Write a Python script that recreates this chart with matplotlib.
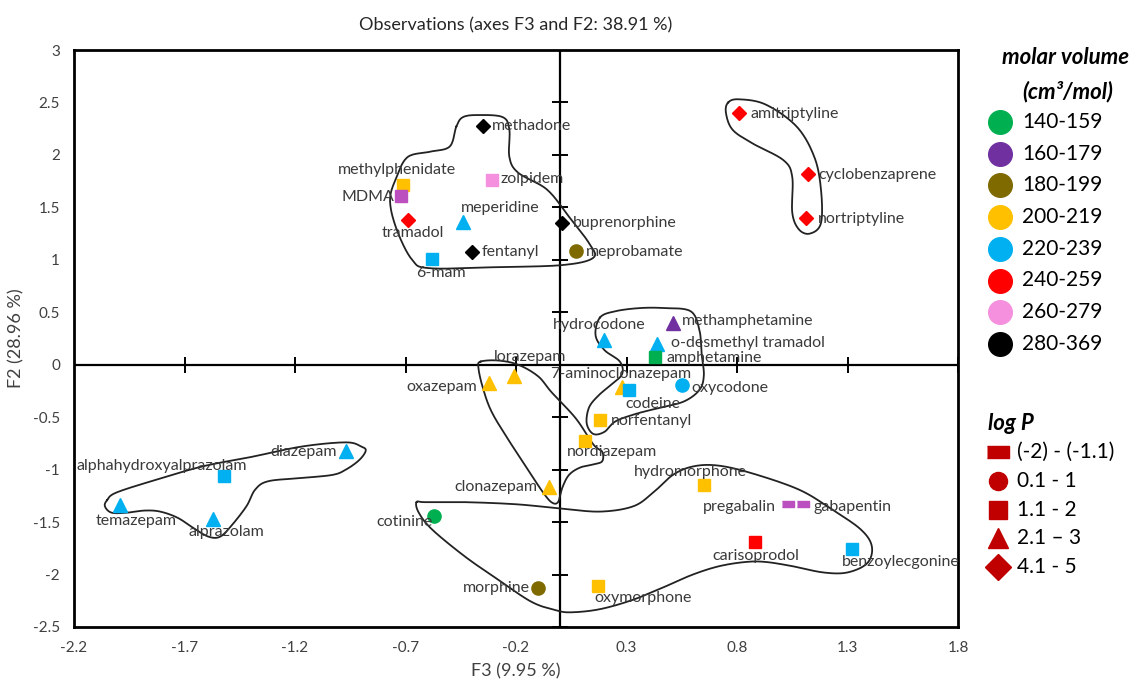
import numpy as np
import matplotlib
matplotlib.use("Agg")
import matplotlib.pyplot as plt

plt.rcParams['font.family'] = ['Lato', 'DejaVu Sans']

# --- data (F3, F2 scores) ---
names = ["methadone", "methylphenidate", "MDMA", "zolpidem", "tramadol", "meperidine",
         "buprenorphine", "fentanyl", "6-mam", "meprobamate",
         "amitriptyline", "cyclobenzaprene", "nortriptyline",
         "hydrocodone", "methamphetamine", "o-desmethyl tramadol", "amphetamine",
         "7-aminoclonazepam", "codeine", "oxycodone", "norfentanyl", "nordiazepam",
         "lorazepam", "oxazepam", "clonazepam",
         "diazepam", "alphahydroxyalprazolam", "temazepam", "alprazolam",
         "cotinine", "morphine", "oxymorphone", "hydromorphone", "pregabalin",
         "gabapentin", "carisoprodol", "benzoylecgonine"]
f3 = [-0.35, -0.71, -0.72, -0.31, -0.69, -0.44,
      0.01, -0.40, -0.58, 0.07,
      0.81, 1.12, 1.11,
      0.20, 0.51, 0.44, 0.43,
      0.28, 0.31, 0.55, 0.18, 0.11,
      -0.21, -0.32, -0.05,
      -0.97, -1.52, -1.99, -1.57,
      -0.57, -0.10, 0.17, 0.65, 1.03,
      1.10, 0.88, 1.32]
f2 = [2.28, 1.71, 1.61, 1.76, 1.38, 1.36,
      1.35, 1.07, 1.01, 1.08,
      2.40, 1.82, 1.40,
      0.24, 0.40, 0.20, 0.07,
      -0.21, -0.24, -0.19, -0.53, -0.73,
      -0.11, -0.17, -1.17,
      -0.82, -1.06, -1.34, -1.47,
      -1.44, -2.13, -2.11, -1.15, -1.33,
      -1.33, -1.69, -1.76]
vol_group = ["280-369", "200-219", "160-179b", "260-279", "240-259", "220-239",
             "280-369", "280-369", "220-239", "180-199",
             "240-259", "240-259", "240-259",
             "220-239", "160-179", "220-239", "140-159",
             "200-219", "220-239", "220-239", "200-219", "200-219",
             "200-219", "200-219", "200-219",
             "220-239", "220-239", "220-239", "220-239",
             "140-159", "180-199", "200-219", "200-219", "160-179b",
             "160-179b", "240-259", "220-239"]
logp_group = ["4.1 - 5", "1.1 - 2", "1.1 - 2", "1.1 - 2", "4.1 - 5", "2.1 \u2013 3",
              "4.1 - 5", "4.1 - 5", "1.1 - 2", "0.1 - 1",
              "4.1 - 5", "4.1 - 5", "4.1 - 5",
              "2.1 \u2013 3", "2.1 \u2013 3", "2.1 \u2013 3", "1.1 - 2",
              "2.1 \u2013 3", "1.1 - 2", "0.1 - 1", "1.1 - 2", "1.1 - 2",
              "2.1 \u2013 3", "2.1 \u2013 3", "2.1 \u2013 3",
              "2.1 \u2013 3", "1.1 - 2", "2.1 \u2013 3", "2.1 \u2013 3",
              "0.1 - 1", "0.1 - 1", "1.1 - 2", "1.1 - 2", "(-2) - (-1.1)",
              "(-2) - (-1.1)", "1.1 - 2", "1.1 - 2"]

vol_labels = ["140-159", "160-179", "180-199", "200-219", "220-239", "240-259", "260-279", "280-369"]
logp_labels = ["(-2) - (-1.1)", "0.1 - 1", "1.1 - 2", "2.1 \u2013 3", "4.1 - 5"]

xticks = [-2.2, -1.7, -1.2, -0.7, -0.2, 0.3, 0.8, 1.3, 1.8]
yticks = [-2.5, -2, -1.5, -1, -0.5, 0, 0.5, 1, 1.5, 2, 2.5, 3]

# hand-drawn group outlines (F3, F2)
outline_opioids = [(-0.47, 2.27), (-0.44, 2.36), (-0.37, 2.38), (-0.26, 2.36), (-0.23, 2.24),
                   (-0.23, 1.98), (-0.19, 1.83), (-0.06, 1.67), (0.04, 1.41), (0.13, 1.16),
                   (0.15, 1.02), (0.01, 0.95), (-0.29, 0.93), (-0.59, 0.92), (-0.67, 1.00),
                   (-0.74, 1.29), (-0.77, 1.57), (-0.74, 1.79), (-0.69, 1.98), (-0.59, 2.03),
                   (-0.50, 2.08)]
outline_tricyclic = [(0.76, 2.50), (0.81, 2.53), (0.93, 2.48), (1.07, 2.27), (1.15, 1.98),
                     (1.18, 1.67), (1.18, 1.35), (1.13, 1.25), (1.08, 1.29), (1.05, 1.45),
                     (1.05, 1.79), (1.01, 1.95), (0.87, 2.11), (0.78, 2.24), (0.75, 2.40)]
outline_amph = [(0.18, 0.45), (0.25, 0.51), (0.36, 0.54), (0.47, 0.54), (0.59, 0.51),
                (0.63, 0.33), (0.64, 0.10), (0.65, -0.10), (0.63, -0.24), (0.56, -0.35),
                (0.45, -0.41), (0.34, -0.47), (0.25, -0.54), (0.20, -0.64), (0.15, -0.66),
                (0.12, -0.56), (0.13, -0.41), (0.17, -0.30), (0.23, -0.19), (0.28, -0.09),
                (0.27, 0.03), (0.20, 0.14), (0.16, 0.28)]
outline_benzo = [(-0.36, 0.03), (-0.28, 0.04), (-0.19, 0.0), (-0.10, -0.11), (-0.04, -0.26),
                 (0.07, -0.51), (0.15, -0.76), (0.19, -0.83), (0.19, -0.92), (0.15, -0.95),
                 (0.09, -0.98), (0.04, -1.05), (0.01, -1.17), (-0.01, -1.31), (-0.04, -1.31),
                 (-0.08, -1.21), (-0.14, -1.02), (-0.23, -0.73), (-0.31, -0.45), (-0.35, -0.22),
                 (-0.37, -0.03)]
outline_alpraz = [(-2.05, -1.29), (-2.01, -1.22), (-1.85, -1.11), (-1.62, -0.97), (-1.40, -0.88),
                  (-1.17, -0.78), (-0.97, -0.74), (-0.90, -0.78), (-0.88, -0.82), (-0.91, -0.91),
                  (-0.97, -1.00), (-1.03, -1.05), (-1.17, -1.08), (-1.32, -1.11), (-1.38, -1.19),
                  (-1.42, -1.35), (-1.49, -1.54), (-1.54, -1.64), (-1.59, -1.64), (-1.65, -1.57),
                  (-1.73, -1.46), (-1.81, -1.40), (-1.88, -1.39), (-1.96, -1.41), (-2.03, -1.41),
                  (-2.06, -1.35)]
outline_bottom = [(-0.65, -1.31), (-0.61, -1.31), (-0.43, -1.31), (-0.20, -1.33), (0.00, -1.37),
                  (0.18, -1.40), (0.33, -1.35), (0.42, -1.22), (0.51, -1.05), (0.60, -0.97),
                  (0.71, -0.96), (0.86, -1.03), (1.08, -1.19), (1.23, -1.38), (1.36, -1.57),
                  (1.41, -1.73), (1.39, -1.89), (1.30, -1.98), (1.19, -1.98), (1.05, -1.92),
                  (0.93, -1.88), (0.84, -1.88), (0.72, -1.92), (0.60, -2.00), (0.48, -2.11),
                  (0.33, -2.24), (0.18, -2.33), (0.05, -2.36), (-0.02, -2.34), (-0.13, -2.26),
                  (-0.28, -2.05), (-0.43, -1.83), (-0.58, -1.57), (-0.64, -1.41)]

vol_color = {"140-159": "#00B050", "160-179": "#7030A0", "160-179b": "#BB4FC0",
             "180-199": "#7F6A00", "200-219": "#FFC000", "220-239": "#00B0F0",
             "240-259": "#FF0000", "260-279": "#F590DE", "280-369": "#000000"}
bar = [(-1, -0.5), (1, -0.5), (1, 0.5), (-1, 0.5)]
logp_marker = {"(-2) - (-1.1)": bar, "0.1 - 1": "o", "1.1 - 2": "s",
               "2.1 \u2013 3": "^", "4.1 - 5": "D"}
logp_size = {"(-2) - (-1.1)": 8.5, "0.1 - 1": 9.5, "1.1 - 2": 9, "2.1 \u2013 3": 9.5, "4.1 - 5": 7.5}

# label offsets in pixels (dx, dy, ha)
label_pos = {
    "methadone": (9, 0, "left"), "methylphenidate": (-6, 15, "center"), "MDMA": (-7, -1, "right"),
    "zolpidem": (9, 1, "left"), "tramadol": (5, -13, "center"), "meperidine": (-2, 14, "left"),
    "buprenorphine": (10, 0, "left"), "fentanyl": (10, 0, "left"), "6-mam": (9, -14, "center"),
    "meprobamate": (10, -1, "left"), "amitriptyline": (11, -1, "left"),
    "cyclobenzaprene": (11, -1, "left"), "nortriptyline": (12, -1, "left"),
    "hydrocodone": (-5, 15, "center"), "methamphetamine": (9, 2, "left"),
    "o-desmethyl tramadol": (14, 1, "left"), "amphetamine": (11, -1, "left"),
    "7-aminoclonazepam": (-1, 13, "center"), "codeine": (-3, -14, "left"),
    "oxycodone": (10, -3, "left"), "norfentanyl": (11, -1, "left"),
    "nordiazepam": (-18, -11, "left"), "lorazepam": (-20, 19, "left"),
    "oxazepam": (-12, -4, "right"), "clonazepam": (-12, 0, "right"),
    "diazepam": (-9, -1, "right"), "alphahydroxyalprazolam": (23, 10, "right"),
    "temazepam": (-25, -16, "left"), "alprazolam": (-25, -13, "left"),
    "cotinine": (-2, -6, "right"), "morphine": (-8, 0, "right"),
    "oxymorphone": (-3, -12, "left"), "hydromorphone": (-70, 13, "left"),
    "pregabalin": (-12, -3, "right"), "gabapentin": (10, -3, "left"),
    "carisoprodol": (-42, -14, "left"), "benzoylecgonine": (-10, -13, "left"),
}


def closed_curve(pts, n=16):
    p = np.array(pts)
    m = len(p)
    t = np.linspace(0, 1, n, endpoint=False)[:, None]
    segs = []
    for i in range(m):
        p0, p1, p2, p3 = p[(i - 1) % m], p[i], p[(i + 1) % m], p[(i + 2) % m]
        segs.append(0.5 * (2 * p1 + (-p0 + p2) * t + (2 * p0 - 5 * p1 + 4 * p2 - p3) * t ** 2
                           + (-p0 + 3 * p1 - 3 * p2 + p3) * t ** 3))
    out = np.vstack(segs + [p[:1]])
    return out[:, 0], out[:, 1]


fig = plt.figure(figsize=(11.44, 6.9), dpi=100)
ax = fig.add_axes([74 / 1144, 1 - 627 / 690, 884 / 1144, 577 / 690])
ax.set_xlim(-2.2, 1.8)
ax.set_ylim(-2.5, 3)

for outline in [outline_opioids, outline_tricyclic, outline_amph, outline_benzo,
                outline_alpraz, outline_bottom]:
    cx, cy = closed_curve(outline)
    ax.plot(cx, cy, color="#222222", lw=1.3, zorder=2)

ax.axhline(0, color="black", lw=1.6, zorder=1)
ax.axvline(0, color="black", lw=1.6, zorder=1)
ax.plot(xticks, [0] * len(xticks), ls="none", marker="|", ms=11, mew=1.4, color="black", zorder=1)
ax.plot([0] * len(yticks), yticks, ls="none", marker="_", ms=11, mew=1.4, color="black", zorder=1)

for i, name in enumerate(names):
    ax.plot(f3[i], f2[i], ls="none", marker=logp_marker[logp_group[i]],
            ms=logp_size[logp_group[i]], color=vol_color[vol_group[i]],
            mec=vol_color[vol_group[i]], zorder=3)
    dx, dy, ha = label_pos[name]
    ax.annotate(name, (f3[i], f2[i]), xytext=(dx, dy), textcoords="offset pixels",
                ha=ha, va="center", fontsize=11.5, color="#3a3a3a", zorder=4)

for s in ax.spines.values():
    s.set_linewidth(2)
ax.set_xticks(xticks)
ax.set_xticklabels([f"{v:g}" for v in xticks])
ax.set_yticks(yticks)
ax.set_yticklabels([f"{v:g}" for v in yticks])
ax.tick_params(length=0, labelsize=11, labelcolor="#404040", pad=10)
ax.set_xlabel("F3 (9.95 %)", fontsize=13, color="#404040", labelpad=6)
ax.set_ylabel("F2 (28.96 %)", fontsize=13, color="#404040", labelpad=6)
ax.set_title("Observations (axes F3 and F2: 38.91 %)", fontsize=13, color="#262626", pad=14)

# legends on the right
lax = fig.add_axes([0, 0, 1, 1])
lax.set_xlim(0, 1144)
lax.set_ylim(690, 0)
lax.axis("off")
lax.text(1066, 58, "molar volume", fontsize=16, fontweight="bold", fontstyle="italic",
         ha="center", va="center")
lax.text(1068, 92, "(cm\u00b3/mol)", fontsize=16, fontweight="bold", fontstyle="italic",
         ha="center", va="center")
for j, lab in enumerate(vol_labels):
    yy = 122 + j * 31.7
    lax.plot(1000, yy, "o", ms=17, color=vol_color[lab])
    lax.text(1022, yy, lab, fontsize=15, va="center", ha="left")

lax.text(988, 423, "log P", fontsize=16, fontweight="bold", fontstyle="italic",
         ha="left", va="center")
for j, lab in enumerate(logp_labels):
    yy = 452 + j * 28.8
    lax.plot(998, yy, ls="none", marker=logp_marker[lab], ms=[16, 13, 13, 15, 13][j],
             color="#C00000")
    lax.text(1017, yy, lab, fontsize=15, va="center", ha="left")

fig.savefig("out.png", dpi=100)
